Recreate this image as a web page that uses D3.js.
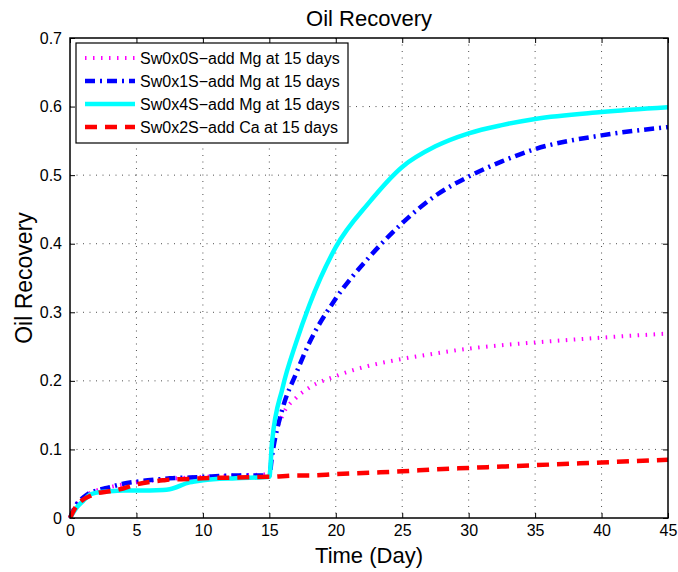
<!DOCTYPE html>
<html>
<head>
<meta charset="utf-8">
<script src="https://cdnjs.cloudflare.com/ajax/libs/d3/7.8.5/d3.min.js"></script>
<style>
  body { margin: 0; background: #fff; }
  svg { display: block; font-family: "Liberation Sans", Arial, sans-serif; }
</style>
</head>
<body>
<svg id="chart"></svg>
<script>
// time axis samples (days)
var days = [0, 0.5, 1, 1.5, 2, 3, 4, 5, 7, 7.5, 9, 10, 12.5, 15, 15.2, 16, 17, 18, 20, 22.5, 25, 27.5, 30, 32.5, 35, 40, 45];

// recovery values, one per day above
var sw0 = [0, 0.02, 0.03, 0.036, 0.04, 0.045, 0.049, 0.052, 0.056, 0.057, 0.059, 0.06, 0.062, 0.064, 0.1, 0.15, 0.175, 0.19, 0.207, 0.222, 0.232, 0.24, 0.247, 0.252, 0.256, 0.263, 0.269];
var sw1 = [0, 0.02, 0.03, 0.037, 0.04, 0.045, 0.05, 0.053, 0.057, 0.058, 0.059, 0.06, 0.062, 0.062, 0.09, 0.16, 0.21, 0.255, 0.32, 0.38, 0.43, 0.47, 0.498, 0.52, 0.538, 0.558, 0.57];
var sw4 = [0, 0.015, 0.025, 0.034, 0.037, 0.039, 0.04, 0.04, 0.041, 0.042, 0.052, 0.055, 0.058, 0.06, 0.11, 0.19, 0.255, 0.31, 0.395, 0.46, 0.512, 0.542, 0.561, 0.573, 0.582, 0.592, 0.599];
var sw2 = [0, 0.018, 0.027, 0.032, 0.036, 0.039, 0.043, 0.049, 0.055, 0.056, 0.057, 0.058, 0.059, 0.06, 0.06, 0.061, 0.062, 0.062, 0.064, 0.066, 0.068, 0.071, 0.073, 0.075, 0.077, 0.081, 0.085];

var seriesNames = ["Sw0x0S\u2212add Mg at 15 days", "Sw0x1S\u2212add Mg at 15 days", "Sw0x4S\u2212add Mg at 15 days", "Sw0x2S\u2212add Ca at 15 days"];
var xTicks = [0, 5, 10, 15, 20, 25, 30, 35, 40, 45];
var yTicks = [0, 0.1, 0.2, 0.3, 0.4, 0.5, 0.6, 0.7];

var W = 678, H = 572;
var margins = { top: 38, left: 70, bottom: 54, right: 10 };
var width = W - margins.left - margins.right;
var height = H - margins.top - margins.bottom;

// line styles, same order as seriesNames
var styles = [
  { color: "#ff00ff", width: 4, dash: "1.5,6.5" },
  { color: "#0000ff", width: 4.5, dash: "10,5,2,5" },
  { color: "#00ffff", width: 4.5, dash: null },
  { color: "#ff0000", width: 4.5, dash: "12,8" }
];
var values = [sw0, sw1, sw4, sw2];

var svg = d3.select("#chart").attr("width", W).attr("height", H);
var g = svg.append("g").attr("transform", "translate(" + margins.left + "," + margins.top + ")");

var x = d3.scaleLinear().domain([0, 45]).range([0, width]);
var y = d3.scaleLinear().domain([0, 0.7]).range([height, 0]);

// dotted grid
g.append("g").selectAll("line").data(xTicks.slice(1, -1)).enter().append("line")
  .attr("x1", function(d) { return x(d); }).attr("x2", function(d) { return x(d); })
  .attr("y1", 0).attr("y2", height)
  .attr("stroke", "#222").attr("stroke-width", 0.8).attr("stroke-dasharray", "1,5.5");
g.append("g").selectAll("line").data(yTicks.slice(1, -1)).enter().append("line")
  .attr("y1", function(d) { return y(d); }).attr("y2", function(d) { return y(d); })
  .attr("x1", 0).attr("x2", width)
  .attr("stroke", "#222").attr("stroke-width", 0.8).attr("stroke-dasharray", "1,5.5");

// axes with inward ticks on all four sides
var fmtY = function(d) { return d === 0 ? "0" : d3.format(".1f")(d); };
var xAxis = d3.axisBottom(x).tickValues(xTicks).tickSizeInner(-5).tickSizeOuter(0).tickPadding(7);
var yAxis = d3.axisLeft(y).tickValues(yTicks).tickFormat(fmtY).tickSizeInner(-5).tickSizeOuter(0).tickPadding(8);
var xTop = d3.axisTop(x).tickValues(xTicks).tickSizeInner(-5).tickSizeOuter(0).tickFormat("");
var yRight = d3.axisRight(y).tickValues(yTicks).tickSizeInner(-5).tickSizeOuter(0).tickFormat("");

var axG = [
  g.append("g").attr("transform", "translate(0," + height + ")").call(xAxis),
  g.append("g").call(yAxis),
  g.append("g").call(xTop),
  g.append("g").attr("transform", "translate(" + width + ",0)").call(yRight)
];
axG.forEach(function(a) {
  a.select(".domain").remove();
  a.selectAll(".tick line").attr("stroke", "#000");
  a.selectAll(".tick text").attr("fill", "#000").style("font-size", "16px").style("font-family", "Liberation Sans, Arial, sans-serif");
});

// series lines
var line = d3.line()
  .curve(d3.curveMonotoneX)
  .x(function(d) { return x(d[0]); })
  .y(function(d) { return y(d[1]); });

values.forEach(function(vals, i) {
  var pts = days.map(function(t, k) { return [t, vals[k]]; });
  g.append("path")
    .attr("d", line(pts))
    .attr("fill", "none")
    .attr("stroke", styles[i].color)
    .attr("stroke-width", styles[i].width)
    .attr("stroke-dasharray", styles[i].dash)
    .attr("stroke-linejoin", "round");
});

// frame
g.append("rect").attr("x", 0).attr("y", 0).attr("width", width).attr("height", height)
  .attr("fill", "none").attr("stroke", "#000").attr("stroke-width", 1.5);

// legend
var leg = g.append("g").attr("transform", "translate(6,5)");
leg.append("rect").attr("x", 0).attr("y", 0).attr("width", 272).attr("height", 100)
  .attr("fill", "#fff").attr("stroke", "#000").attr("stroke-width", 1.2);
seriesNames.forEach(function(name, i) {
  var cy = 15 + i * 23;
  leg.append("line").attr("x1", 9).attr("x2", 59).attr("y1", cy).attr("y2", cy)
    .attr("stroke", styles[i].color).attr("stroke-width", styles[i].width)
    .attr("stroke-dasharray", styles[i].dash);
  leg.append("text").attr("x", 64).attr("y", cy + 5.5).text(name)
    .style("font-size", "16px").attr("fill", "#000");
});

// titles
svg.append("text").attr("x", margins.left + width / 2).attr("y", 26)
  .attr("text-anchor", "middle").style("font-size", "22px").text("Oil Recovery");
svg.append("text").attr("x", margins.left + width / 2).attr("y", 563)
  .attr("text-anchor", "middle").style("font-size", "22px").text("Time (Day)");
svg.append("text").attr("transform", "translate(32," + (margins.top + height / 2) + ") rotate(-90)")
  .attr("text-anchor", "middle").style("font-size", "23px").text("Oil Recovery");
</script>
</body>
</html>
